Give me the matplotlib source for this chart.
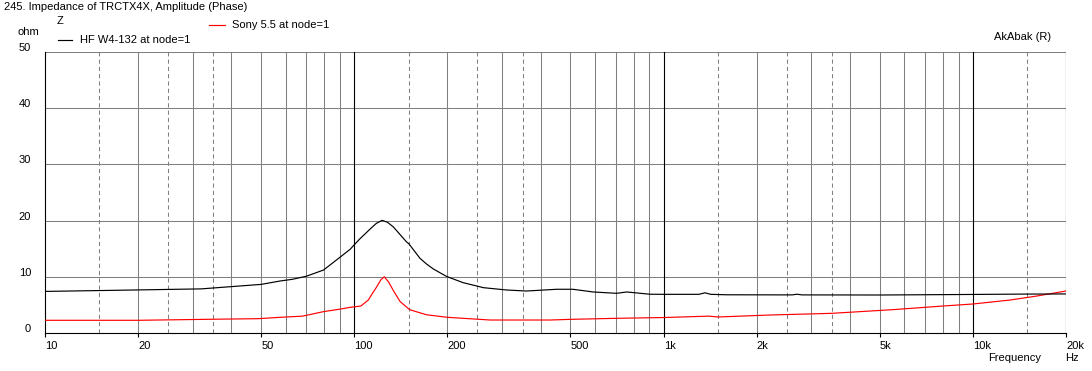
import numpy as np
import matplotlib
matplotlib.use("Agg")
import matplotlib.pyplot as plt
from matplotlib.lines import Line2D
from matplotlib.transforms import ScaledTranslation

plt.rcParams["font.family"] = ["Liberation Sans", "DejaVu Sans"]
plt.rcParams["font.size"] = 8

# HF W4-132 impedance (ohm)
hf_freq = [10, 17, 32, 50, 57.5, 63, 70, 79.5, 90, 97, 99.2, 104, 109.6, 112.5,
           117.8, 123, 128, 133.6, 147.6, 150, 163, 171, 180, 199, 225, 249, 261,
           311, 360, 451, 509, 592, 705, 760, 903, 1000, 1300, 1361, 1420, 1600,
           2600, 2700, 2800, 5000, 10000, 14400, 20000]
hf_z = [7.4, 7.6, 7.85, 8.65, 9.25, 9.55, 10.1, 11.2, 13.5, 14.9, 15.5, 16.7, 17.9, 18.5,
        19.5, 20.05, 19.7, 18.9, 16.2, 15.9, 13.3, 12.3, 11.4, 10.05, 8.95, 8.36, 8.07,
        7.65, 7.47, 7.78, 7.78, 7.3, 7.06, 7.3, 6.9, 6.88, 6.88, 7.15, 6.88, 6.8,
        6.78, 6.9, 6.78, 6.76, 6.86, 6.92, 6.95]

# Sony 5.5 impedance (ohm)
sony_freq = [10, 20, 33, 49, 57.5, 68, 79.5, 90, 97, 105, 111, 114, 117.8, 122, 125,
             129, 133.6, 140.6, 151, 171, 200, 275, 430, 500, 700, 1000, 1400, 1500,
             2200, 3500, 5500, 8000, 10000, 13200, 16100, 20000]
sony_z = [2.26, 2.26, 2.43, 2.55, 2.79, 3.0, 3.8, 4.25, 4.57, 4.8, 5.87, 6.9, 8.1, 9.5, 10.0,
          9.1, 7.6, 5.6, 4.15, 3.25, 2.79, 2.31, 2.31, 2.43, 2.61, 2.75, 3.0, 2.85,
          3.2, 3.5, 4.15, 4.8, 5.16, 5.87, 6.58, 7.47]

x_ticks = [10, 20, 50, 100, 200, 500, 1000, 2000, 5000, 10000, 20000]
x_labels = ["10", "20", "50", "100", "200", "500", "1k", "2k", "5k", "10k", "20k"]
y_ticks = [0, 10, 20, 30, 40, 50]

W, H = 1092, 371
fig = plt.figure(figsize=(W / 100, H / 100), dpi=100)
ax = fig.add_axes([45 / W, 1 - 333 / H, (1066 - 45) / W, (333 - 52) / H])

ax.set_xscale("log")
ax.set_xlim(10, 20000)
ax.set_ylim(0, 50)

# grid
for dec in [10, 100, 1000, 10000]:
    for m in [2, 3, 4, 5, 6, 7, 8, 9]:
        f = dec * m
        if f < 20000:
            ax.axvline(f, color="#808080", lw=0.75, zorder=1)
    for m in [1.5, 2.5, 3.5]:
        f = dec * m
        if f < 20000:
            ax.axvline(f, color="#808080", lw=0.75, ls=(0, (4, 3)), zorder=1)
for f in [100, 1000, 10000, 20000]:
    ax.axvline(f, color="black", lw=0.8, zorder=2)
for v in y_ticks[1:]:
    ax.axhline(v, color="#808080", lw=0.75, zorder=1)

ax.plot(sony_freq, sony_z, color="red", lw=0.85, zorder=4)
ax.plot(hf_freq, hf_z, color="black", lw=0.85, zorder=4)

for s in ["top", "right"]:
    ax.spines[s].set_visible(False)
ax.spines["left"].set_linewidth(0.8)
ax.spines["bottom"].set_linewidth(0.8)

ax.set_xticks(x_ticks)
ax.set_xticklabels(x_labels)
ax.xaxis.set_minor_locator(matplotlib.ticker.NullLocator())
ax.tick_params(axis="x", length=3, width=0.8, pad=3)
for lab in ax.get_xticklabels():
    lab.set_horizontalalignment("left")

ax.set_yticks(y_ticks)
ax.set_yticklabels([str(v) for v in y_ticks])
ax.tick_params(axis="y", length=0, pad=10)
for lab in ax.get_yticklabels():
    lab.set_transform(lab.get_transform() + ScaledTranslation(0, 0.05, fig.dpi_scale_trans))

# texts
def ftext(x, y, s, **kw):
    fig.text(x / W, 1 - y / H, s, va="center", **kw)

ftext(4, 7, "245. Impedance of TRCTX4X, Amplitude (Phase)")
ftext(57, 21, "Z")
ftext(18, 32, "ohm")
ftext(994, 37, "AkAbak (R)")
ftext(988, 358, "Frequency")
ftext(1065, 358, "Hz")
ftext(80, 40, "HF W4-132 at node=1")
ftext(232, 25, "Sony 5.5 at node=1")
fig.add_artist(Line2D([58 / W, 72 / W], [1 - 40 / H, 1 - 40 / H], color="black", lw=0.85))
fig.add_artist(Line2D([209 / W, 225 / W], [1 - 25 / H, 1 - 25 / H], color="red", lw=0.85))

fig.savefig("out.png", dpi=100)
